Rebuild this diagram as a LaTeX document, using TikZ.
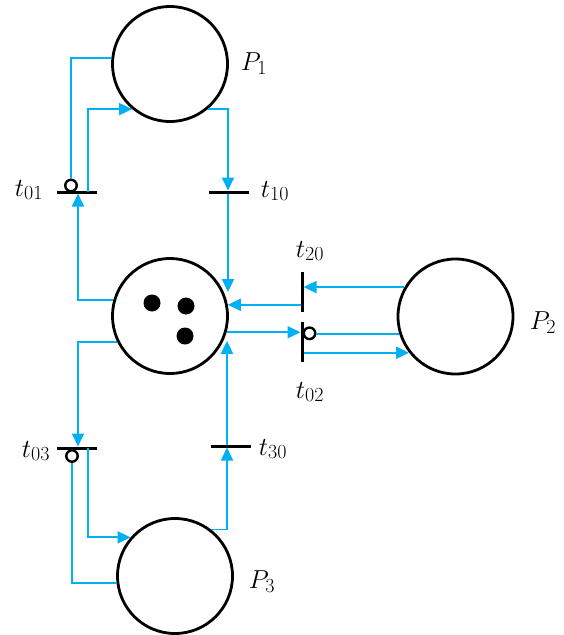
\RequirePackage{fix-cm}
\documentclass[tikz,border=0pt]{standalone}
\usetikzlibrary{arrows.meta,calc}
\DeclareMathSizes{26}{26}{20}{15}
\definecolor{lineblue}{RGB}{0,176,240}
\begin{document}
\begin{tikzpicture}[x=1pt,y=-1pt,
  font=\fontsize{26}{30}\selectfont,
  place/.style={circle,draw=black,line width=2.8pt,fill=white,minimum size=115pt,inner sep=0pt},
  token/.style={circle,fill=black,minimum size=17pt,inner sep=0pt},
  hbar/.style={fill=black,minimum width=40pt,minimum height=3pt,inner sep=0pt,outer sep=0pt},
  vbar/.style={fill=black,minimum width=3pt,minimum height=40pt,inner sep=0pt,outer sep=0pt},
  inhib/.style={circle,draw=black,fill=white,line width=2.4pt,minimum size=11.5pt,inner sep=0pt},
  arc/.style={draw=lineblue,line width=1.8pt},
  arr/.style={arc,-{Triangle[length=13pt,width=12pt]}},
  lab/.style={inner sep=0pt}]
\useasboundingbox (0,0) rectangle (563,635);
% places
\node[place] (P1) at (170,64) {};
\node[place] (P0) at (170,316) {};
\node[place] (P2) at (455.5,316.5) {};
\node[place] (P3) at (175,576) {};
% tokens
\node[token] (k1) at (152,303) {};
\node[token] (k2) at (186,306) {};
\node[token] (k3) at (185,336) {};
% transitions
\node[hbar] (t01) at (77,192) {};
\node[hbar] (t10) at (229,192) {};
\node[vbar] (t20) at (302,292) {};
\node[vbar] (t02) at (302,342) {};
\node[hbar] (t03) at (77,448) {};
\node[hbar] (t30) at (231,446) {};
% inhibitor circles
\node[inhib] (i01) at (71,185.5) {};
\node[inhib] (i02) at (309.5,333.3) {};
\node[inhib] (i03) at (72,456) {};
% labels
\node[lab] (LP1) at (254,64) {$P_1$};
\node[lab] (LP2) at (543,323) {$P_2$};
\node[lab] (LP3) at (262,582) {$P_3$};
\node[lab] (L01) at (29,190) {$t_{01}$};
\node[lab] (L10) at (275,191) {$t_{10}$};
\node[lab] (L20) at (310,251) {$t_{20}$};
\node[lab] (L02) at (310,392) {$t_{02}$};
\node[lab] (L03) at (36,451) {$t_{03}$};
\node[lab] (L30) at (273,449) {$t_{30}$};
% connectors: P1 <-> t01
\draw[arc] (P1.174) -| (i01.north);
\draw[arr] ([xshift=11pt]t01.center) |- (P1.230);
\draw[arr] (P0.164) -| ([xshift=1pt]t01.south);
% P1 -> t10 -> P0
\draw[arr] (P1.310) -| ([xshift=-1pt]t10.north);
\draw[arr] ([xshift=-1pt]t10.south) -- ([xshift=-1pt]t10.south |- P0.24);
% P2 -> t20 -> P0
\draw[arr] (P2.150) -- (P2.150 -| t20.east);
\draw[arr] (P0.11 -| t20.west) -- (P0.11);
% P0 -> t02 -> P2
\draw[arr] (P0.344) -- (P0.344 -| t02.west);
\draw[arc] (P2.197) -- (P2.197 -| i02.east);
\draw[arr] (P2.218 -| t02.east) -- (P2.218);
% P0 -> t03 -> P3
\draw[arr] (P0.206) -| ([xshift=1pt]t03.north);
\draw[arc] (i03.south) |- (P3.187);
\draw[arr] ([xshift=11pt]t03.center) |- (P3.139);
% P3 -> t30 -> P0
\draw[arr] (P3.52) -| ([xshift=-4pt]t30.south);
\draw[arr] ([xshift=-4pt]t30.north) -- ([xshift=-4pt]t30.north |- P0.335);
\end{tikzpicture}
\end{document}
